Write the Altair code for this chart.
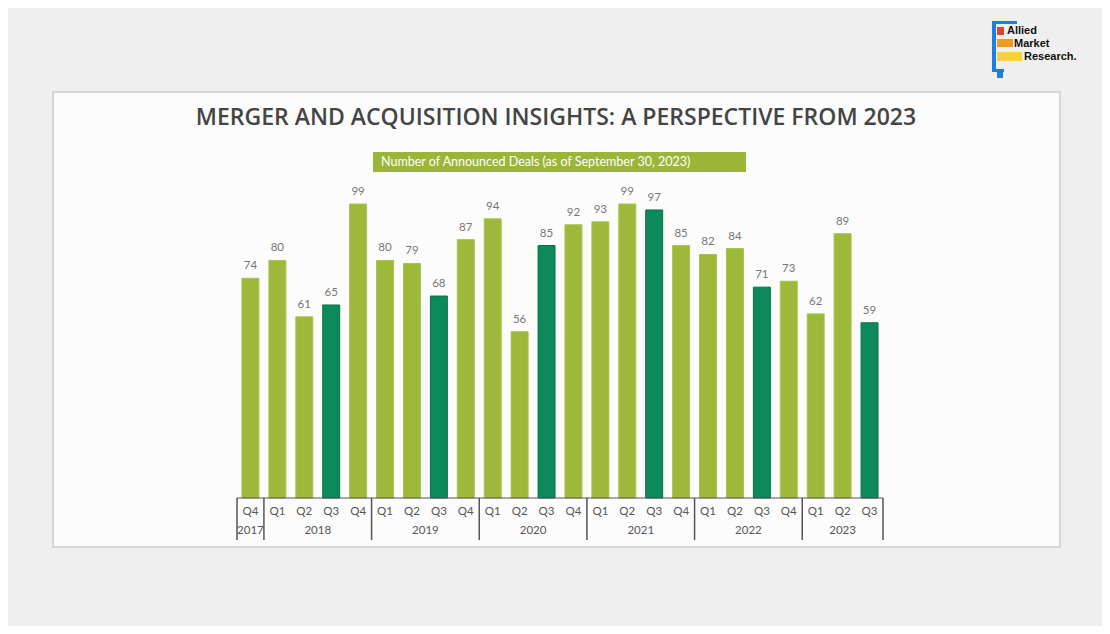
import altair as alt
import pandas as pd

# ---- data ----
quarters = ["Q4", "Q1", "Q2", "Q3", "Q4", "Q1", "Q2", "Q3", "Q4", "Q1", "Q2", "Q3",
            "Q4", "Q1", "Q2", "Q3", "Q4", "Q1", "Q2", "Q3", "Q4", "Q1", "Q2", "Q3"]
years = ["2017", "2018", "2018", "2018", "2018", "2019", "2019", "2019", "2019",
         "2020", "2020", "2020", "2020", "2021", "2021", "2021", "2021",
         "2022", "2022", "2022", "2022", "2023", "2023", "2023"]
deals = [74, 80, 61, 65, 99, 80, 79, 68, 87, 94, 56, 85, 92, 93, 99, 97, 85,
         82, 84, 71, 73, 62, 89, 59]

year_labels = ["2017", "2018", "2019", "2020", "2021", "2022", "2023"]
year_centers = [0, 2.5, 6.5, 10.5, 14.5, 18.5, 22]
boundaries = [-0.5, 0.5, 4.5, 8.5, 12.5, 16.5, 20.5, 23.5]

title_text = "MERGER AND ACQUISITION INSIGHTS: A PERSPECTIVE FROM 2023"
legend_text = "Number of Announced Deals (as of September 30, 2023)"
logo_words = ["Allied", "Market", "Research."]

LIGHT = "#9db83a"
DARK = "#0c8a5c"

df = pd.DataFrame({
    "i": list(range(len(deals))),
    "quarter": quarters,
    "year": years,
    "deals": deals,
})
df["kind"] = ["dark" if q == "Q3" else "light" for q in quarters]

ydf = pd.DataFrame({"i": year_centers, "label": year_labels})
bdf = pd.DataFrame({"i": boundaries})
one = pd.DataFrame({"a": [0]})

xs = alt.Scale(domain=[-0.5, 23.5], range=[229, 875], nice=False, zero=False)
ys = alt.Scale(domain=[0, 99], range=[490, 196], nice=False, zero=False)

X = alt.X("i:Q", scale=xs, axis=None)

# frame
frame = alt.Chart(one).mark_rect(fill="#fcfcfc", stroke="#d6d6d6", strokeWidth=2).encode(
    x=alt.value(45), x2=alt.value(1052), y=alt.value(84), y2=alt.value(539)
)

title = alt.Chart(one).mark_text(
    text=title_text, font="Open Sans", fontSize=23, fontWeight=600, color="#444444",
    align="center", baseline="middle"
).encode(x=alt.value(548), y=alt.value(110))

legend_box = alt.Chart(one).mark_rect(fill="#9db536").encode(
    x=alt.value(365), x2=alt.value(738), y=alt.value(144), y2=alt.value(164)
)
legend_txt = alt.Chart(one).mark_text(
    text=legend_text, font="Lato", fontSize=12.5, color="white",
    align="left", baseline="middle"
).encode(x=alt.value(373), y=alt.value(154))

bars = alt.Chart(df).transform_calculate(
    x0="datum.i - 0.315", x1="datum.i + 0.315"
).mark_bar(strokeWidth=1).encode(
    x=alt.X("x0:Q", scale=xs, axis=None),
    x2="x1:Q",
    y=alt.Y("deals:Q", scale=ys, axis=None),
    y2=alt.datum(0),
    color=alt.Color("kind:N", scale=alt.Scale(domain=["light", "dark"], range=[LIGHT, DARK]), legend=None),
    stroke=alt.Stroke("kind:N", scale=alt.Scale(domain=["light", "dark"], range=["#a9c24a", "#0a6e48"]), legend=None),
)

values = alt.Chart(df).mark_text(
    font="Lato", fontSize=11.5, color="#777777", baseline="middle", dy=-12
).encode(
    x=X, y=alt.Y("deals:Q", scale=ys, axis=None), text="deals:Q"
)

qlabels = alt.Chart(df).mark_text(
    font="Lato", fontSize=11.5, color="#555555", baseline="middle"
).encode(x=X, y=alt.value(504), text="quarter:N")

ylabels = alt.Chart(ydf).mark_text(
    font="Lato", fontSize=11.5, color="#555555", baseline="middle"
).encode(x=X, y=alt.value(523), text="label:N")

seps = alt.Chart(bdf).mark_rule(color="#555555", strokeWidth=1.5).encode(
    x=X, y=alt.value(490), y2=alt.value(532)
)
hline = alt.Chart(one).mark_rule(color="#555555", strokeWidth=1.2).encode(
    x=alt.value(229), x2=alt.value(875), y=alt.value(490)
)

# logo
logo_rects = pd.DataFrame({
    "x": [984, 984, 984, 989, 989, 989, 989],
    "x2": [1009, 988, 996, 995, 996, 1005, 1014],
    "y": [13, 13, 61, 61, 19, 31, 44],
    "y2": [16, 64, 64, 70, 27, 39, 53],
    "c": ["#1e7fe0", "#1e7fe0", "#1e7fe0", "#1e7fe0", "#e0442a", "#f39a1e", "#fbd040"],
})
logo = alt.Chart(logo_rects).mark_rect().encode(
    x=alt.X("x:Q", scale=None), x2="x2:Q",
    y=alt.Y("y:Q", scale=None), y2="y2:Q",
    color=alt.Color("c:N", scale=None),
)
logo_txt = pd.DataFrame({
    "x": [999, 1006, 1016],
    "y": [23, 35.5, 48.5],
    "t": logo_words,
})
logo_text = alt.Chart(logo_txt).mark_text(
    font="Liberation Sans", fontSize=11, fontWeight="bold", color="#111111",
    align="left", baseline="middle"
).encode(x=alt.X("x:Q", scale=None), y=alt.Y("y:Q", scale=None), text="t:N")

chart = alt.layer(
    frame, title, legend_box, legend_txt, bars, values, qlabels, ylabels, seps, hline,
    logo, logo_text
).resolve_scale(color="independent", stroke="independent").properties(
    width=1094, height=618, background="#efefef", padding=0,
    autosize=alt.AutoSizeParams(type="none"),
).configure_view(stroke=None)

chart.save("out.html", embed_options={"renderer": "svg", "actions": False})
